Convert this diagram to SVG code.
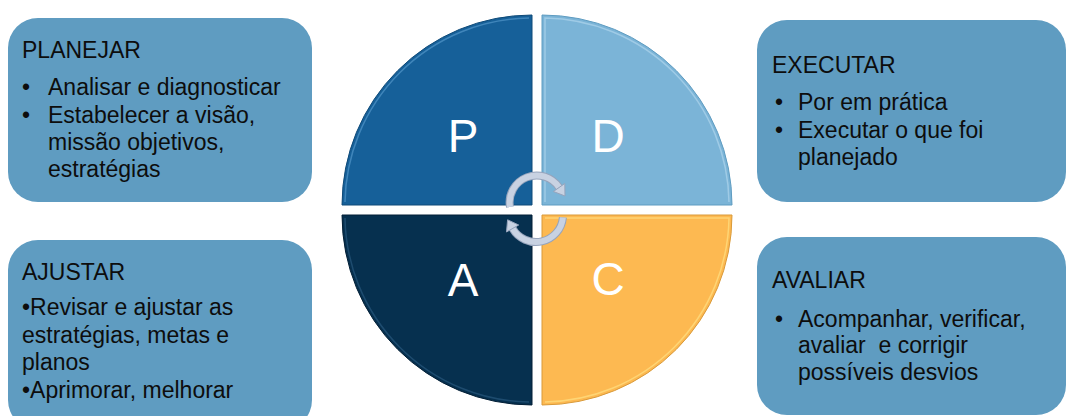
<svg xmlns="http://www.w3.org/2000/svg" width="1066" height="416" viewBox="0 0 1066 416">
<style>
.box{fill:#5f9cc1;}
.t{font-family:"Liberation Sans",Arial,sans-serif;font-size:23px;fill:#0d0d0d;white-space:pre;}
.big{font-family:"Liberation Sans",Arial,sans-serif;font-size:46px;fill:#ffffff;text-anchor:middle;}
.bev{fill:none;stroke-width:1.5;opacity:0.6;}
.arcO{fill:none;stroke:#96a4bc;stroke-width:8;}
.arcI{fill:none;stroke:#c8d2e2;stroke-width:6;}
.head{fill:#c8d2e2;stroke:#96a4bc;stroke-width:1;}
</style>
<rect width="1066" height="416" fill="#ffffff"/>

<g id="box-planejar">
<rect class="box" x="8" y="18" width="304" height="184" rx="30"/>
<text class="t" x="22" y="58">PLANEJAR</text>
<text class="t" x="22" y="95">•</text><text class="t" x="48" y="95">Analisar e diagnosticar</text>
<text class="t" x="22" y="123">•</text><text class="t" x="48" y="123">Estabelecer a visão,</text>
<text class="t" x="48" y="150">missão objetivos,</text>
<text class="t" x="48" y="177">estratégias</text>
</g>

<g id="box-executar">
<rect class="box" x="757" y="20" width="309" height="182" rx="30"/>
<text class="t" x="772" y="73">EXECUTAR</text>
<text class="t" x="775" y="110">•</text><text class="t" x="798" y="110">Por em prática</text>
<text class="t" x="775" y="138">•</text><text class="t" x="798" y="138">Executar o que foi</text>
<text class="t" x="798" y="165">planejado</text>
</g>

<g id="box-ajustar">
<rect class="box" x="8" y="240" width="304" height="190" rx="30"/>
<text class="t" x="22" y="280">AJUSTAR</text>
<text class="t" x="22" y="315">•Revisar e ajustar as</text>
<text class="t" x="22" y="343">estratégias, metas e</text>
<text class="t" x="22" y="370">planos</text>
<text class="t" x="22" y="398">•Aprimorar, melhorar</text>
</g>

<g id="box-avaliar">
<rect class="box" x="757" y="237" width="309" height="178" rx="30"/>
<text class="t" x="772" y="288">AVALIAR</text>
<text class="t" x="775" y="327">•</text><text class="t" x="798" y="327">Acompanhar, verificar,</text>
<text class="t" x="798" y="353" xml:space="preserve">avaliar  e corrigir</text>
<text class="t" x="798" y="380">possíveis desvios</text>
</g>

<g id="quad-p">
<path d="M532,205 L342,205 A190,190 0 0 1 532,15 Z" fill="#166099" stroke="#0f4a78" stroke-width="1"/>
<path class="bev" d="M345,202 A187,187 0 0 1 529,18" stroke="#5b9fd0"/>
<text class="big" x="463" y="152">P</text>
</g>

<g id="quad-d">
<path d="M542,205 L542,15 A190,190 0 0 1 732,205 Z" fill="#7bb4d7" stroke="#5f9cc1" stroke-width="1"/>
<path class="bev" d="M545,202 L545,18 A187,187 0 0 1 729,202" stroke="#b8dbf0"/>
<text class="big" x="608" y="152">D</text>
</g>

<g id="quad-a">
<path d="M532,215 L532,405 A190,190 0 0 1 342,215 Z" fill="#06304f" stroke="#031f36" stroke-width="1"/>
<path class="bev" d="M529,402 A187,187 0 0 1 345,218" stroke="#2d5d84"/>
<text class="big" x="463" y="296">A</text>
</g>

<g id="quad-c">
<path d="M542,215 L732,215 A190,190 0 0 1 542,405 Z" fill="#fdb951" stroke="#d99a3a" stroke-width="1"/>
<path class="bev" d="M545,218 L729,218 A187,187 0 0 1 545,402" stroke="#ffe88c"/>
<text class="big" x="608" y="295">C</text>
</g>

<g id="connectors">
<path class="arcO" d="M510,207 A27,27 0 0 1 559.1,187.5"/>
<path class="arcI" d="M510,207 A27,27 0 0 1 559.1,187.5"/>
<polygon class="head" points="565,196 564.8,183.5 553.4,191.5"/>
<path class="arcO" d="M562.9,217.4 A27,27 0 0 1 512.6,228.5"/>
<path class="arcI" d="M562.9,217.4 A27,27 0 0 1 512.6,228.5"/>
<polygon class="head" points="507.6,219.8 518.7,225 506.5,232"/>
</g>
</svg>
